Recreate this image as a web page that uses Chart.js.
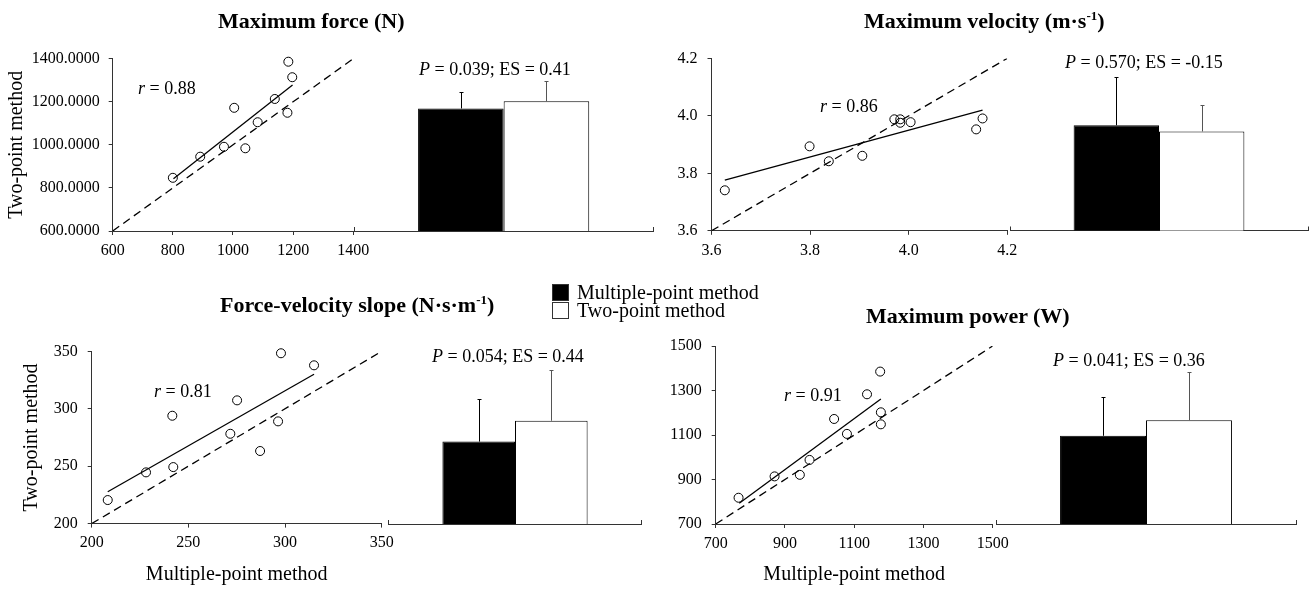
<!DOCTYPE html>
<html>
<head>
<meta charset="utf-8">
<script src="https://cdn.jsdelivr.net/npm/chart.js@4.4.1/dist/chart.umd.min.js"></script>
<style>
body { margin: 0; background: #fff; }
#page { position: relative; width: 1310px; height: 589px; overflow: hidden;
        font-family: "Liberation Serif", "Times New Roman", serif; color: #000; }
canvas { position: absolute; left: 0; top: 0; }
.lbl { position: absolute; white-space: nowrap; line-height: 1; transform: translateY(-50%); }
.ttl { font-weight: bold; font-size: 22px; }
.ann { font-size: 18px; }
.leg { font-size: 20px; }
.sup { font-size: 13px; position: relative; top: -8px; }
.box { position: absolute; width: 17px; height: 17px; box-sizing: border-box; border: 1px solid #333; }
</style>
</head>
<body>
<div id="page">
  <div class="lbl ttl" style="left:218px;top:21px">Maximum force (N)</div>
  <div class="lbl ttl" style="left:864px;top:21px">Maximum velocity (m·s<span class="sup">-1</span>)</div>
  <div class="lbl ttl" style="left:220px;top:305px">Force-velocity slope (N·s·m<span class="sup">-1</span>)</div>
  <div class="lbl ttl" style="left:866px;top:316px">Maximum power (W)</div>

  <div class="lbl ann" style="left:138px;top:88px"><i>r</i> = 0.88</div>
  <div class="lbl ann" style="left:820px;top:106px"><i>r</i> = 0.86</div>
  <div class="lbl ann" style="left:154px;top:391px"><i>r</i> = 0.81</div>
  <div class="lbl ann" style="left:784px;top:395px"><i>r</i> = 0.91</div>

  <div class="lbl ann" style="left:419px;top:69px"><i>P</i> = 0.039; ES = 0.41</div>
  <div class="lbl ann" style="left:1065px;top:62px"><i>P</i> = 0.570; ES = -0.15</div>
  <div class="lbl ann" style="left:432px;top:356px"><i>P</i> = 0.054; ES = 0.44</div>
  <div class="lbl ann" style="left:1053px;top:360px"><i>P</i> = 0.041; ES = 0.36</div>

  <div class="box" style="left:552px;top:284px;background:#000"></div>
  <div class="lbl leg" style="left:577px;top:292px">Multiple-point method</div>
  <div class="box" style="left:552px;top:302px;background:#fff"></div>
  <div class="lbl leg" style="left:577px;top:310px">Two-point method</div>
</div>
<script>
// Maximum force (N)
var forceMulti = [800, 891, 970, 1004, 1041, 1082, 1139, 1181, 1184, 1197];
var forceTwo   = [847, 945, 991, 1172, 984, 1105, 1213, 1149, 1386, 1314];
var forceFitX  = [802, 1198];
var forceFitY  = [843, 1278];
var forceTicks = [600, 800, 1000, 1200, 1400];
var forceBars  = [1049, 1111];
var forceSD    = [137, 171];

// Maximum velocity (m/s)
var velMulti = [3.627, 3.799, 3.838, 3.906, 3.971, 3.983, 3.983, 4.004, 4.137, 4.150];
var velTwo   = [3.741, 3.894, 3.842, 3.861, 3.988, 3.988, 3.976, 3.978, 3.953, 3.991];
var velFitX  = [3.627, 4.150];
var velFitY  = [3.776, 4.020];
var velTicks = [3.6, 3.8, 4.0, 4.2];
var velBars  = [3.94, 3.92];
var velSD    = [0.157, 0.084];

// Force-velocity slope (N.s/m)
var slopeMulti = [208.3, 228.1, 241.7, 242.2, 271.7, 275.2, 287.1, 296.4, 297.9, 315.0];
var slopeTwo   = [220.5, 244.6, 293.9, 249.2, 278.2, 307.3, 263.2, 289.0, 348.3, 337.8];
var slopeFitX  = [208.3, 315.0];
var slopeFitY  = [227.7, 330.0];
var slopeTicks = [200, 250, 300, 350];
var slopeBars  = [266.4, 283.2];
var slopeSD    = [34.4, 40.8];

// Maximum power (W)
var powerMulti = [766, 870, 943, 971, 1042, 1079, 1137, 1175, 1177, 1177];
var powerTwo   = [818, 914, 921, 988, 1172, 1105, 1283, 1385, 1202, 1148];
var powerFitX  = [768, 1177];
var powerFitY  = [793, 1262];
var powerTicks = [700, 900, 1100, 1300, 1500];
var powerBars  = [1034, 1093];
var powerSD    = [147, 182];

var W = 1310, H = 589;
var FONT = '"Liberation Serif", "Times New Roman", serif';
var AXIS = '#333';
var page = document.getElementById('page');

function addCanvas() {
  var c = document.createElement('canvas');
  c.width = W; c.height = H;
  page.insertBefore(c, page.firstChild);
  return c;
}

// error bar drawn from top of each bar up to mean + sd
var errorBars = {
  id: 'errorBars',
  afterDatasetsDraw: function(chart) {
    var ctx = chart.ctx, ys = chart.scales.y;
    chart.data.datasets.forEach(function(ds, i) {
      chart.getDatasetMeta(i).data.forEach(function(bar, j) {
        var x = Math.round(bar.x) + 0.5;
        var top = Math.round(ys.getPixelForValue(ds.data[j] + ds.sd[j])) + 0.5;
        ctx.save();
        ctx.strokeStyle = ds.errorColor;
        ctx.lineWidth = 1;
        ctx.beginPath();
        ctx.moveTo(x, bar.y);
        ctx.lineTo(x, top);
        ctx.moveTo(x - 2, top);
        ctx.lineTo(x + 2, top);
        ctx.stroke();
        ctx.restore();
      });
    });
  }
};

function linAxis(ticks, fmt, extra) {
  var ax = {
    type: 'linear',
    min: ticks[0],
    max: ticks[ticks.length - 1],
    afterBuildTicks: function(s) { s.ticks = ticks.map(function(v) { return {value: v}; }); },
    grid: {drawOnChartArea: false, tickLength: 4, color: AXIS},
    border: {color: AXIS},
    ticks: {color: '#000', font: {family: FONT, size: 16}, autoSkip: false, maxRotation: 0,
            callback: function(v) { return fmt(v); }}
  };
  return Object.assign(ax, extra);
}

function scatterPanel(p) {
  var pts = p.x.map(function(v, i) { return {x: v, y: p.y[i]}; });
  var fit = p.fitX.map(function(v, i) { return {x: v, y: p.fitY[i]}; });
  var lo = p.ticks[0], hi = p.ticks[p.ticks.length - 1];
  var a = p.area, xh = p.xTitle ? H - a.bottom : 40;

  var xAx = linAxis(p.ticks, p.xFmt, {
    afterFit: function(s) { s.height = xh; }
  });
  xAx.ticks.padding = 6;
  if (p.xTitle) xAx.title = {display: true, text: p.xTitle, color: '#000',
                             font: {family: FONT, size: 20}, padding: {top: 0, bottom: 2}};

  var yAx = linAxis(p.ticks, p.yFmt, {
    afterFit: function(s) { s.width = a.left; }
  });
  yAx.ticks.padding = p.yPad;
  if (p.yTitle) yAx.title = {display: true, text: p.yTitle, color: '#000',
                             font: {family: FONT, size: 20}, padding: {top: p.yTitlePad, bottom: 0}};

  new Chart(addCanvas(), {
    type: 'scatter',
    data: {datasets: [
      {data: [{x: lo, y: lo}, {x: hi, y: hi}], showLine: true, borderColor: '#000',
       borderWidth: 1.3, borderDash: [8, 5], pointRadius: 0},
      {data: fit, showLine: true, borderColor: '#000', borderWidth: 1.3, pointRadius: 0},
      {data: pts, pointRadius: 4.5, pointBorderWidth: 1, borderColor: '#000',
       backgroundColor: 'rgba(0,0,0,0)', clip: false}
    ]},
    options: {
      responsive: false, animation: false, events: [],
      layout: {padding: {left: 0, top: a.top, right: W - a.right, bottom: H - a.bottom - xh}},
      plugins: {legend: {display: false}, tooltip: {enabled: false}},
      scales: {x: xAx, y: yAx}
    }
  });
}

function barPanel(p) {
  var b = p.bar;
  new Chart(addCanvas(), {
    type: 'bar',
    data: {labels: [''], datasets: [
      {data: [p.bars[0]], sd: [p.sd[0]], backgroundColor: '#000', borderColor: '#000',
       borderWidth: 1, errorColor: '#000', categoryPercentage: 0.573, barPercentage: 1},
      {data: [p.bars[1]], sd: [p.sd[1]], backgroundColor: '#fff', borderColor: '#000',
       borderWidth: 1, errorColor: '#555', categoryPercentage: 0.573, barPercentage: 1}
    ]},
    options: {
      responsive: false, animation: false, events: [],
      layout: {padding: {left: b.left, top: b.top, right: W - b.right, bottom: H - b.bottom - 20}},
      plugins: {legend: {display: false}, tooltip: {enabled: false}},
      scales: {
        x: {grid: {offset: true, drawOnChartArea: false, tickLength: -4, color: AXIS},
            border: {color: AXIS}, ticks: {display: false},
            afterFit: function(s) { s.height = 20; }},
        y: {display: false, min: b.min, max: b.max}
      }
    },
    plugins: [errorBars]
  });
}

function plain(v) { return String(v); }
function oneDec(v) { return v.toFixed(1); }

var panels = [
  {x: forceMulti, y: forceTwo, fitX: forceFitX, fitY: forceFitY, ticks: forceTicks,
   bars: forceBars, sd: forceSD, xFmt: plain, yFmt: function(v) { return v.toFixed(4); },
   yTitle: 'Two-point method', yTitlePad: 5, yPad: 9,
   area: {left: 112.7, right: 353.3, top: 58.7, bottom: 231},
   bar: {left: 354.3, right: 653, top: 58.7, bottom: 231, min: 0, max: 1475}},
  {x: velMulti, y: velTwo, fitX: velFitX, fitY: velFitY, ticks: velTicks,
   bars: velBars, sd: velSD, xFmt: oneDec, yFmt: oneDec, yPad: 10,
   area: {left: 711.5, right: 1007.2, top: 58.4, bottom: 230.8},
   bar: {left: 1010, right: 1308, top: 58.4, bottom: 230.5, min: 3.6, max: 4.156}},
  {x: slopeMulti, y: slopeTwo, fitX: slopeFitX, fitY: slopeFitY, ticks: slopeTicks,
   bars: slopeBars, sd: slopeSD, xFmt: plain, yFmt: plain,
   yTitle: 'Two-point method', yTitlePad: 19.3, yPad: 10, xTitle: 'Multiple-point method',
   area: {left: 91.7, right: 381.7, top: 351.3, bottom: 523.6},
   bar: {left: 388.3, right: 641.7, top: 351.3, bottom: 524, min: 200, max: 339.2}},
  {x: powerMulti, y: powerTwo, fitX: powerFitX, fitY: powerFitY, ticks: powerTicks,
   bars: powerBars, sd: powerSD, xFmt: plain, yFmt: plain,
   yPad: 10, xTitle: 'Multiple-point method',
   area: {left: 715.7, right: 992.7, top: 346, bottom: 524},
   bar: {left: 996, right: 1296, top: 346, bottom: 524, min: 700, max: 1374}}
];

panels.forEach(function(p) { scatterPanel(p); barPanel(p); });
</script>
</body>
</html>
